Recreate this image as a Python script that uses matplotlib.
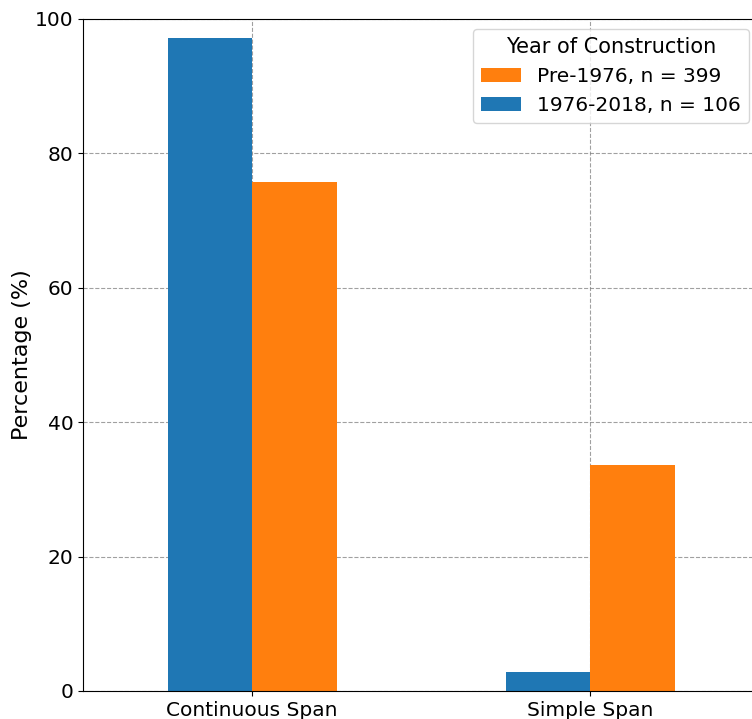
import numpy as np
import matplotlib
matplotlib.use('Agg')
import matplotlib.pyplot as plt

# span type share by construction period
categories = ['Continuous Span', 'Simple Span']
recent_pct = [97.2, 2.8]     # 1976-2018, n = 106
pre1976_pct = [75.7, 33.6]   # Pre-1976, n = 399
recent_label = '1976-2018, n = 106'
pre_label = 'Pre-1976, n = 399'

plt.rc('font', size=14.5)

fig = plt.figure(figsize=(7.52, 7.19), dpi=100)
ax = fig.add_axes([83/752, 28/719, 676/752, 672/719])

x = np.arange(len(categories))
w = 0.25
b_recent = ax.bar(x - w/2, recent_pct, w, color='#1f77b4', label=recent_label)
b_pre = ax.bar(x + w/2, pre1976_pct, w, color='#ff7f0e', label=pre_label)

ax.set_xticks(x)
ax.set_xticklabels(categories)
ax.set_xlim(-0.5, 1.5)
ax.set_ylim(0, 100)
ax.set_yticks([0, 20, 40, 60, 80, 100])
ax.set_ylabel('Percentage (%)', fontsize=16, labelpad=2)

ax.set_axisbelow(True)
ax.grid(True, linestyle='--', color='gray', alpha=0.75, linewidth=0.8)

ax.legend(handles=[b_pre, b_recent], title='Year of Construction', loc='upper right',
          fontsize=14.5, title_fontsize=15)

fig.savefig('out.png', dpi=100)
